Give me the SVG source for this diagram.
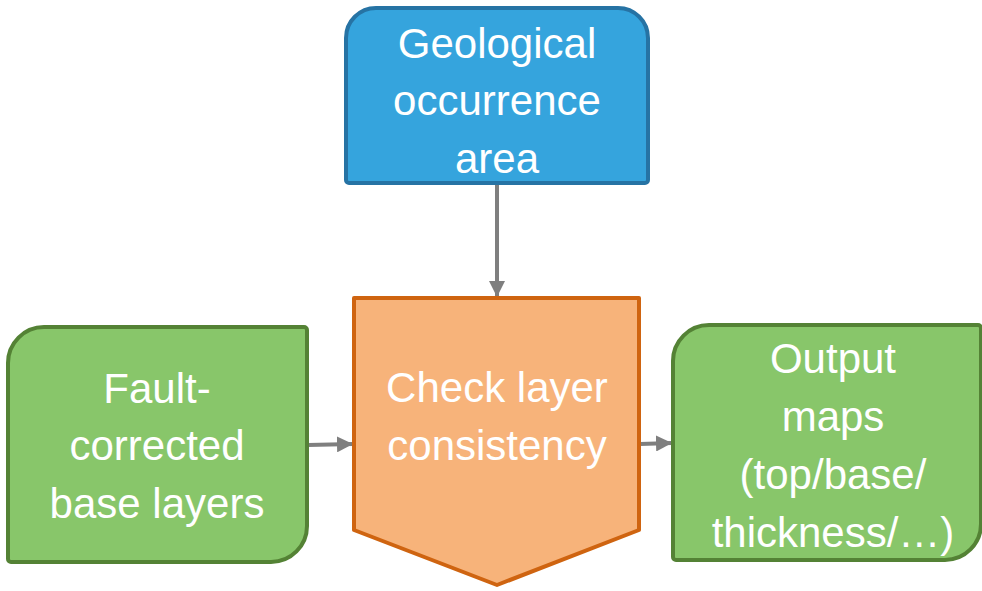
<svg xmlns="http://www.w3.org/2000/svg" width="982" height="591" viewBox="0 0 982 591">
<style>
.t{font-family:"Liberation Sans",Arial,sans-serif;font-size:42px;fill:#ffffff;text-anchor:middle}
.blue{fill:#35A4DD;stroke:#2673A4;stroke-width:4}
.orange{fill:#F7B37A;stroke:#CF6410;stroke-width:4}
.green{fill:#88C66A;stroke:#548235;stroke-width:4}
.c{stroke:#7F7F7F;stroke-width:4;fill:none}
</style>
<defs>
<marker id="ah" viewBox="0 0 10 10" refX="10" refY="5" markerWidth="4" markerHeight="4" markerUnits="strokeWidth" orient="auto">
<path d="M0,0 L10,5 L0,10 Z" fill="#7F7F7F"/>
</marker>
</defs>
<g id="connectors">
<line class="c" x1="497" y1="184" x2="497" y2="297" marker-end="url(#ah)"/>
<line class="c" x1="308" y1="445" x2="353" y2="444" marker-end="url(#ah)"/>
<line class="c" x1="640" y1="444" x2="672" y2="443" marker-end="url(#ah)"/>
</g>
<g id="geological">
<path class="blue" d="M376,8 H618 A30,30 0 0 1 648,38 V180 A3,3 0 0 1 645,183 H349 A3,3 0 0 1 346,180 V38 A30,30 0 0 1 376,8 Z"/>
<text class="t" x="497" y="58">Geological</text>
<text class="t" x="497" y="115">occurrence</text>
<text class="t" x="497" y="173">area</text>
</g>
<g id="check">
<path class="orange" d="M354,298 H639 V530 L497,585 L354,530 Z" stroke-linejoin="round"/>
<text class="t" x="497" y="402">Check layer</text>
<text class="t" x="497" y="460">consistency</text>
</g>
<g id="fault">
<path class="green" d="M44,327 H304 A3,3 0 0 1 307,330 V526 A36,36 0 0 1 271,562 H11 A3,3 0 0 1 8,559 V363 A36,36 0 0 1 44,327 Z"/>
<text class="t" x="157" y="403">Fault-</text>
<text class="t" x="157" y="460">corrected</text>
<text class="t" x="157" y="518">base layers</text>
</g>
<g id="output">
<path class="green" d="M709,325 H978 A3,3 0 0 1 981,328 V524 A36,36 0 0 1 945,560 H676 A3,3 0 0 1 673,557 V361 A36,36 0 0 1 709,325 Z"/>
<text class="t" x="833" y="373">Output</text>
<text class="t" x="833" y="431">maps</text>
<text class="t" x="833" y="489">(top/base/</text>
<text class="t" x="833" y="547">thickness/…)</text>
</g>
</svg>
